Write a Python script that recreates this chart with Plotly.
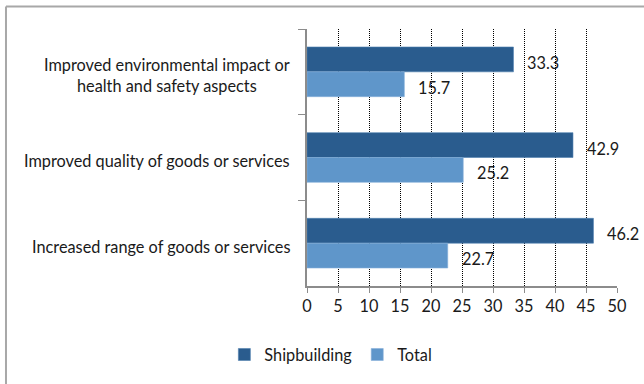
import plotly.graph_objects as go

# Innovation outcomes, share of enterprises (%)
categories = [
    "Improved environmental impact or<br>health and safety aspects",
    "Improved quality of goods or services",
    "Increased range of goods or services",
]
shipbuilding = [33.3, 42.9, 46.2]
total = [15.7, 25.2, 22.7]
x_ticks = [0, 5, 10, 15, 20, 25, 30, 35, 40, 45, 50]

FONT = "Lato"
DARK = "#2A5C8E"
LIGHT = "#5F96CA"
AXIS = "#8C8C8C"
FS = 16.3

fig = go.Figure()
fig.add_trace(go.Bar(
    y=categories, x=shipbuilding, name="Shipbuilding", orientation="h",
    marker=dict(color=DARK, line=dict(color="#4F7FB0", width=0.6)),
))
fig.add_trace(go.Bar(
    y=categories, x=total, name="Total", orientation="h",
    marker=dict(color=LIGHT, line=dict(color="#86B0DA", width=0.6)),
))

# value labels just past each bar end
annotations = []
for i, cat in enumerate(categories):
    for val, shift in ((shipbuilding[i], -0.145), (total[i], 0.145)):
        annotations.append(dict(
            x=val, y=i + shift, xref="x", yref="y", text=f"{val:.1f}",
            showarrow=False, xanchor="left", yanchor="middle",
            xshift=12, yshift=-3, font=dict(family=FONT, size=FS, color="#1a1a1a"),
        ))
    # category labels, centred multi-line text to the left of the axis
    annotations.append(dict(
        x=0, y=i, xref="paper", yref="y", text=cat, showarrow=False,
        xanchor="right", yanchor="middle", align="center", xshift=-15, yshift=-3,
        font=dict(family=FONT, size=FS, color="#1a1a1a"),
    ))

# outer frame lines (top and left)
shapes = [
    dict(type="line", xref="paper", yref="paper", x0=-0.971, x1=1.09,
         y0=1.0875, y1=1.0875, line=dict(color="#A8A8A8", width=2)),
    dict(type="line", xref="paper", yref="paper", x0=-0.971, x1=-0.971,
         y0=-0.4, y1=1.0875, line=dict(color="#A8A8A8", width=2)),
]

fig.update_layout(
    width=644, height=384,
    margin=dict(l=307, r=27, t=29, b=92),
    paper_bgcolor="white", plot_bgcolor="white",
    barmode="group", bargap=0.42, bargroupgap=0,
    font=dict(family=FONT, size=FS, color="#1a1a1a"),
    showlegend=True,
    legend=dict(orientation="h", x=0.077, xanchor="center", y=-0.2, yanchor="top",
                font=dict(family=FONT, size=FS), itemwidth=30,
                traceorder="normal"),
    annotations=annotations, shapes=shapes,
)
fig.update_xaxes(
    range=[0, 50], tickvals=x_ticks, ticktext=[str(t) for t in x_ticks],
    showgrid=True, gridcolor="black", gridwidth=1, griddash="1px,1px",
    zeroline=False, showline=True, linecolor=AXIS, linewidth=1.5,
    ticks="outside", ticklen=5, tickcolor=AXIS, tickfont=dict(size=FS),
)
fig.update_yaxes(
    type="category", categoryorder="array", categoryarray=categories,
    autorange="reversed", showticklabels=False,
    showline=True, linecolor=AXIS, linewidth=1.5,
    ticks="outside", ticklen=7, tickcolor=AXIS, tickson="boundaries",
    showgrid=False, zeroline=False,
)

fig.write_html("out.html")
